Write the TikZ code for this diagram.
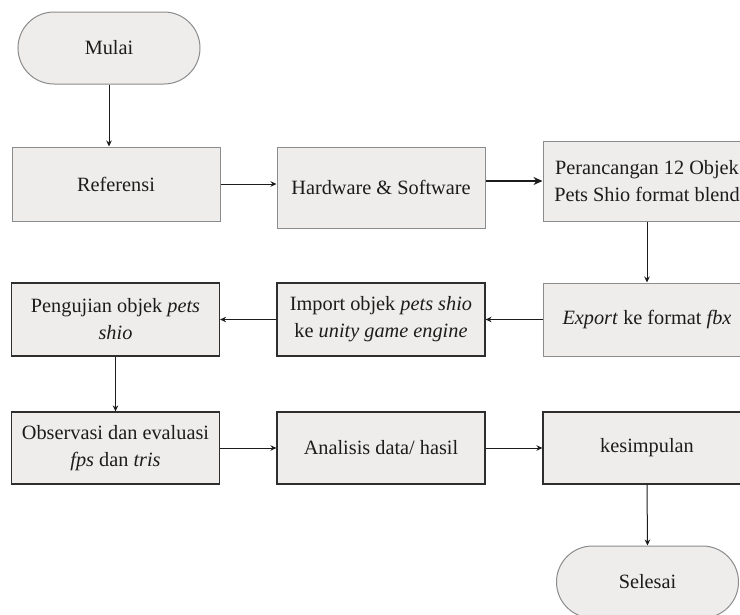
\documentclass[tikz,border=0pt]{standalone}
\usepackage{fontspec}
\setmainfont{Liberation Serif}
\usetikzlibrary{arrows.meta}
\definecolor{boxfill}{HTML}{EEEDEC}
\definecolor{edge}{HTML}{8C8C8C}
\definecolor{edgedark}{HTML}{2E2E2E}
\definecolor{ink}{HTML}{1C1C1C}
\tikzset{
  box/.style={draw=edge, fill=boxfill, line width=1pt, minimum width=208pt,
    inner sep=0pt, align=center, text=ink, font=\fontsize{20.3}{27}\selectfont},
  boxd/.style={box, draw=edgedark, line width=1.2pt},
  term/.style={box, rounded corners=36pt, minimum width=182pt, minimum height=72pt},
  flow/.style={draw=ink, line width=1pt, -{Stealth[length=6pt,width=5.5pt]}},
  flowb/.style={flow, line width=2.2pt, -{Stealth[length=9pt,width=8pt]}},
}

\begin{document}
\begin{tikzpicture}[x=1pt, y=-1pt]
  \useasboundingbox (0,0) rectangle (740,614);
  \fill[white] (0,0) rectangle (740,614);
  \clip (0,0) rectangle (740,614);

  \node[term] (mulai) at (109,48) {Mulai};                 % start
  \node[box, minimum height=74pt] (ref) at (116,184) {Referensi};
  \node[box, minimum height=81pt] (hw) at (381,187.5) {Hardware \& Software};
  \node[box, minimum height=80pt] (pr) at (647,181)
    {Perancangan 12 Objek\\Pets Shio format blend};

  \node[box, minimum height=73pt] (ex) at (647,319.5)
    {\textit{Export} ke format \textit{fbx}};
  \node[boxd, minimum height=73pt] (im) at (381,319.5)
    {Import objek \textit{pets shio}\\ke \textit{unity game engine}};
  \node[boxd, minimum height=73pt] (pg) at (115.5,319.5)
    {Pengujian objek \textit{pets}\\\textit{shio}};

  \node[boxd, minimum height=72pt] (ob) at (115.5,448)
    {Observasi dan evaluasi\\\textit{fps} dan \textit{tris}};
  \node[boxd, minimum height=72pt] (an) at (381,448) {Analisis data/ hasil};
  \node[boxd, minimum height=72pt] (ks) at (647,448) {kesimpulan};
  \node[term] (sl) at (647.5,582) {Selesai};               % end

  \draw[flow] (mulai.south) -- (mulai.south |- ref.north);
  \draw[flow] (ref.east) -- (ref.east -| hw.west);
  \draw[flowb] (hw.east |- pr.west) -- (pr.west);
  \draw[flow] (pr.south) -- (ex.north);
  \draw[flow] (ex.west) -- (im.east);
  \draw[flow] (im.west) -- (pg.east);
  \draw[flow] (pg.south) -- (ob.north);
  \draw[flow] (ob.east) -- (an.west);
  \draw[flow] (an.east) -- (ks.west);
  \draw[flow] (ks.south) -- (sl.north);
\end{tikzpicture}
\end{document}
